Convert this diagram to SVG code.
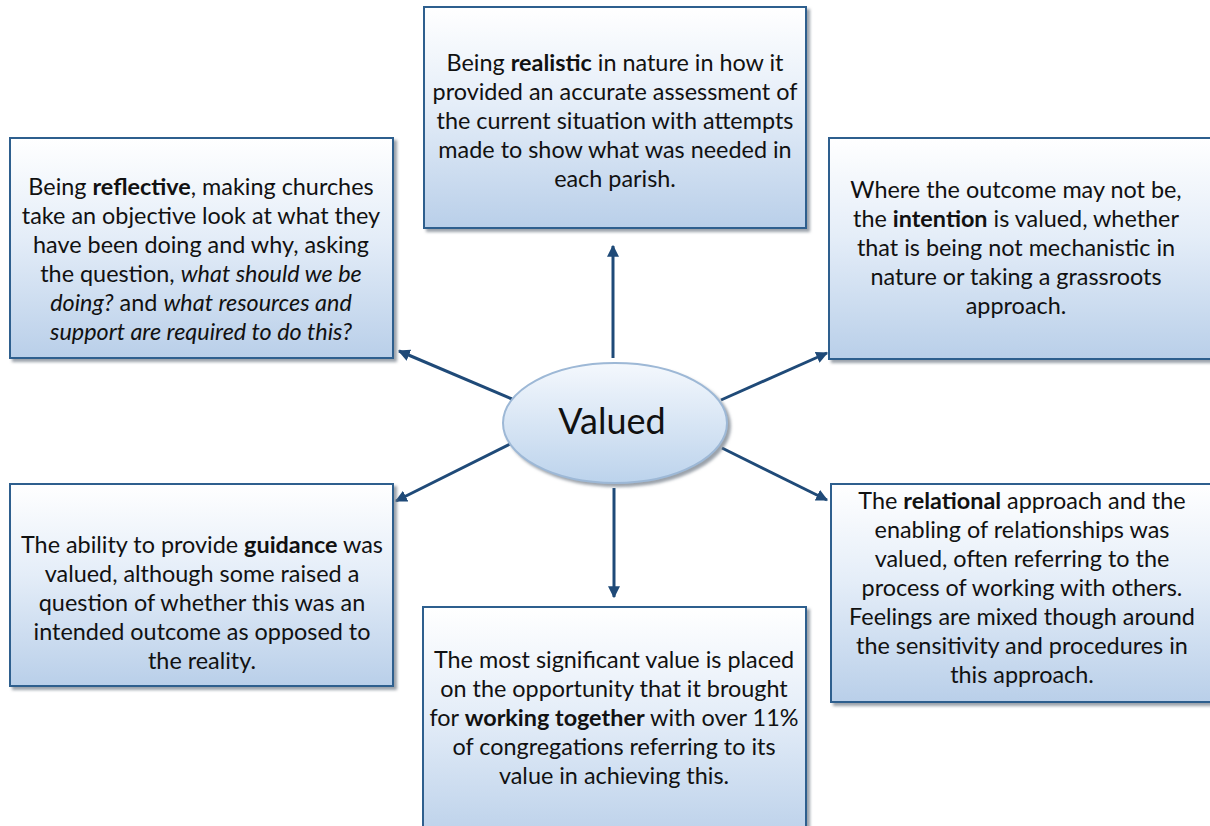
<svg xmlns="http://www.w3.org/2000/svg" width="1210" height="826" viewBox="0 0 1210 826">
  <defs>
    <linearGradient id="boxFill" x1="0" y1="0" x2="0" y2="1">
      <stop offset="0" stop-color="#ffffff"/>
      <stop offset="0.45" stop-color="#e4edf8"/>
      <stop offset="1" stop-color="#b9cfe9"/>
    </linearGradient>
    <linearGradient id="ovalFill" x1="0" y1="0" x2="0" y2="1">
      <stop offset="0" stop-color="#f4f8fd"/>
      <stop offset="1" stop-color="#bcd3ec"/>
    </linearGradient>
    <filter id="shadow" x="-5%" y="-5%" width="115%" height="115%">
      <feDropShadow dx="3" dy="3" stdDeviation="1.5" flood-color="#6f7a86" flood-opacity="0.7"/>
    </filter>
    <marker id="arrow" viewBox="0 0 10 10" refX="9" refY="5" markerWidth="4" markerHeight="4" orient="auto" markerUnits="strokeWidth">
      <path d="M0,0 L10,5 L0,10 z" fill="#1f4a78"/>
    </marker>
  </defs>
  <style>
    .box { fill: url(#boxFill); stroke: #2d5f8e; stroke-width: 2; filter: url(#shadow); }
    .oval { fill: url(#ovalFill); stroke: #9db8d6; stroke-width: 2; filter: url(#shadow); }
    .txt { font-family: Lato, "Open Sans", "Liberation Sans", sans-serif; font-size: 23.4px; fill: #111111; text-anchor: middle; }
    .big { font-size: 36px; }
    .b { font-weight: bold; }
    .i { font-style: italic; }
    .link { stroke: #1f4a78; stroke-width: 3; fill: none; marker-end: url(#arrow); }
  </style>

  <rect width="1210" height="826" fill="#ffffff"/>

  <!-- connectors from the central oval out to each box -->
  <g id="connectors">
    <line class="link" x1="613" y1="358" x2="613" y2="246"/>
    <line class="link" x1="614" y1="488" x2="614" y2="597"/>
    <line class="link" x1="512" y1="399" x2="399" y2="351"/>
    <line class="link" x1="721" y1="400" x2="827" y2="353"/>
    <line class="link" x1="510" y1="444" x2="396" y2="501"/>
    <line class="link" x1="722" y1="448" x2="827" y2="500"/>
  </g>

  <g id="realistic">
    <rect class="box" x="424" y="7" width="382" height="221"/>
    <text class="txt" x="615" y="71">Being <tspan class="b">realistic</tspan> in nature in how it</text>
    <text class="txt" x="615" y="100">provided an accurate assessment of</text>
    <text class="txt" x="615" y="129">the current situation with attempts</text>
    <text class="txt" x="615" y="158">made to show what was needed in</text>
    <text class="txt" x="615" y="187">each parish.</text>
  </g>

  <g id="reflective">
    <rect class="box" x="10" y="138" width="383" height="220"/>
    <text class="txt" x="201" y="195">Being <tspan class="b">reflective</tspan>, making churches</text>
    <text class="txt" x="201" y="224">take an objective look at what they</text>
    <text class="txt" x="201" y="253">have been doing and why, asking</text>
    <text class="txt" x="201" y="282">the question, <tspan class="i">what should we be</tspan></text>
    <text class="txt" x="201" y="311"><tspan class="i">doing?</tspan> and <tspan class="i">what resources and</tspan></text>
    <text class="txt" x="201" y="340"><tspan class="i">support are required to do this?</tspan></text>
  </g>

  <g id="intention">
    <rect class="box" x="829" y="138" width="386" height="221"/>
    <text class="txt" x="1016" y="198">Where the outcome may not be,</text>
    <text class="txt" x="1016" y="227">the <tspan class="b">intention</tspan> is valued, whether</text>
    <text class="txt" x="1016" y="256">that is being not mechanistic in</text>
    <text class="txt" x="1016" y="285">nature or taking a grassroots</text>
    <text class="txt" x="1016" y="314">approach.</text>
  </g>

  <g id="valued">
    <ellipse class="oval" cx="615" cy="423" rx="112" ry="60"/>
    <text class="txt big" x="612" y="434">Valued</text>
  </g>

  <g id="guidance">
    <rect class="box" x="10" y="484" width="383" height="202"/>
    <text class="txt" x="202" y="553">The ability to provide <tspan class="b">guidance</tspan> was</text>
    <text class="txt" x="202" y="582">valued, although some raised a</text>
    <text class="txt" x="202" y="611">question of whether this was an</text>
    <text class="txt" x="202" y="640">intended outcome as opposed to</text>
    <text class="txt" x="202" y="669">the reality.</text>
  </g>

  <g id="relational">
    <rect class="box" x="831" y="484" width="384" height="218"/>
    <text class="txt" x="1022" y="509">The <tspan class="b">relational</tspan> approach and the</text>
    <text class="txt" x="1022" y="538">enabling of relationships was</text>
    <text class="txt" x="1022" y="567">valued, often referring to the</text>
    <text class="txt" x="1022" y="596">process of working with others.</text>
    <text class="txt" x="1022" y="625">Feelings are mixed though around</text>
    <text class="txt" x="1022" y="654">the sensitivity and procedures in</text>
    <text class="txt" x="1022" y="683">this approach.</text>
  </g>

  <g id="working-together">
    <rect class="box" x="423" y="607" width="383" height="240"/>
    <text class="txt" x="614" y="668">The most significant value is placed</text>
    <text class="txt" x="614" y="697">on the opportunity that it brought</text>
    <text class="txt" x="614" y="726">for <tspan class="b">working together</tspan> with over 11%</text>
    <text class="txt" x="614" y="755">of congregations referring to its</text>
    <text class="txt" x="614" y="784">value in achieving this.</text>
  </g>
</svg>
